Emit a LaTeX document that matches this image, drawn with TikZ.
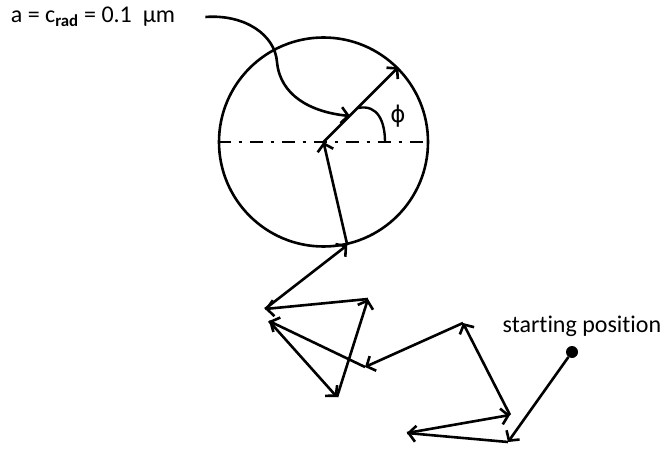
\documentclass[tikz,border=0pt]{standalone}
\usepackage{fontspec}
\setmainfont{Carlito}[Ligatures=NoCommon]
\newfontfamily\phifont{DejaVu Sans}
\usepackage{tikz}
\usetikzlibrary{arrows.meta, positioning}

\begin{document}
\begin{tikzpicture}[
            x=1pt, y=-1pt,
            walkarr/.style={-{Straight Barb[length=7pt,width=16pt]}, line width=2.6pt},
            cellbox/.style={circle, draw, line width=2.6pt, minimum size=209pt, inner sep=0pt},
            axis/.style={line width=2.6pt, dash pattern=on 13pt off 8pt on 3pt off 8pt},
            dot/.style={circle, fill, minimum size=12pt, inner sep=0pt},
            lbl/.style={font=\fontsize{24}{26}\selectfont, inner sep=0pt}
        ]
            \useasboundingbox (0,0) rectangle (664,449);

            % --- Celda (circulo) ---
            \node[cellbox] (cell) at (323.5,142) {};
            \draw[axis] (cell.west) -- (cell.east);
            \coordinate (enter) at (cell.-77);
            \coordinate (hit) at (350,116);

            % --- Puntos del camino ---
            \node[dot] (start) at (572,352) {};
            \coordinate (p1)  at (508,442);
            \coordinate (p2)  at (407,433);
            \coordinate (p3)  at (510,415);
            \coordinate (p4)  at (463,323);
            \coordinate (p5)  at (365,367);
            \coordinate (p6)  at (269,321);
            \coordinate (p7)  at (337,397);
            \coordinate (p8)  at (368,299);
            \coordinate (p9)  at (265,309);

            % --- Textos ---
            \node[lbl] (radius) at (93,17) {a = c\textsubscript{\textbf{rad}} = 0.1~~μm};
            \node[lbl, font=\phifont\fontsize{23}{25}\selectfont] (phi) at (398,116) {ϕ};
            \node[lbl] (startl) at (582,326) {starting position};

            % --- Camino aleatorio ---
            \draw[walkarr] (start) -- (p1);
            \draw[walkarr] (p1) -- (p2);
            \draw[walkarr] (p2) -- (p3);
            \draw[walkarr] (p3) -- (p4);
            \draw[walkarr] (p4) -- (p5);
            \draw[walkarr] (p5) -- (p6);
            \draw[walkarr] (p6) -- (p7);
            \draw[walkarr] (p7) -- (p8);
            \draw[walkarr] (p8) -- (p9);
            \draw[walkarr] (p9) -- (enter);
            \draw[walkarr] (enter) -- (cell.center);
            \draw[walkarr] (cell.center) -- (cell.45);

            % Angulo phi
            \draw[line width=2.4pt] (358,108) .. controls (378,104) and (385,122) .. (385,142);

            % Flecha del radio
            \draw[walkarr] ([xshift=30pt]radius.east) .. controls (245,14) and (275,35) .. (277,62)
                        .. controls (280,95) and (310,112) .. (hit);
        \end{tikzpicture}
\end{document}
